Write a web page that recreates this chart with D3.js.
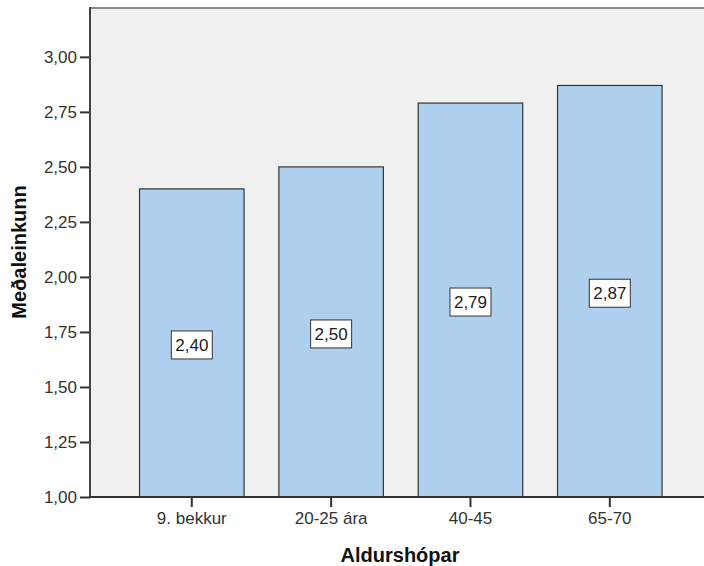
<!DOCTYPE html>
<html>
<head>
<meta charset="utf-8">
<script src="https://cdn.jsdelivr.net/npm/d3@7"></script>
<style>
  html, body { margin: 0; padding: 0; background: #fff; }
  svg { display: block; font-family: "Liberation Sans", Arial, sans-serif; }
</style>
</head>
<body>
<svg id="chart" width="704" height="566"></svg>
<script>
const categories = ["9. bekkur", "20-25 ára", "40-45", "65-70"];
const values = [2.40, 2.50, 2.79, 2.87];
const yTicks = [1.00, 1.25, 1.50, 1.75, 2.00, 2.25, 2.50, 2.75, 3.00];
const xTitle = "Aldurshópar";
const yTitle = "Meðaleinkunn";

(function () {
const fmt = v => d3.format(".2f")(v).replace(".", ",");

const svg = d3.select("#chart");
const pLeft = 90, pTop = 8, pBottom = 497, pRight = 710.6;

const x = d3.scaleBand().domain(categories).range([pLeft, pRight])
  .paddingInner(0.25).paddingOuter(0.352);
const y = d3.scaleLinear().domain([1, 3.222]).range([pBottom, pTop]);

// plot background
svg.append("rect").attr("x", pLeft).attr("y", pTop)
  .attr("width", 704 - pLeft + 5).attr("height", pBottom - pTop)
  .attr("fill", "#f0f0f0").attr("stroke", "#8a8a8a").attr("stroke-width", 2);

// bars
svg.append("g").selectAll("rect").data(values).join("rect")
  .attr("x", (d, i) => x(categories[i]) + 0.5)
  .attr("y", d => y(d))
  .attr("width", x.bandwidth())
  .attr("height", d => y(1) - y(d))
  .attr("fill", "#aed0ee")
  .attr("stroke", "#333")
  .attr("stroke-width", 1.2);

// value labels
const lab = svg.append("g").selectAll("g").data(values).join("g")
  .attr("transform", (d, i) => `translate(${x(categories[i]) + x.bandwidth() / 2 + 0.5},${(y(d) + y(1)) / 2 + 2})`);
lab.append("rect").attr("x", -20.5).attr("y", -14).attr("width", 41).attr("height", 28)
  .attr("fill", "#fff").attr("stroke", "#333").attr("stroke-width", 1);
lab.append("text").attr("text-anchor", "middle").attr("dy", "0.36em")
  .attr("font-size", 17).attr("fill", "#222").text(d => fmt(d));

// y axis
const yAxis = svg.append("g").attr("transform", `translate(${pLeft},0)`)
  .call(d3.axisLeft(y).tickValues(yTicks).tickFormat(fmt).tickSize(10).tickPadding(3));
yAxis.select(".domain").remove();
yAxis.selectAll("line").attr("stroke", "#333").attr("stroke-width", 2);
yAxis.selectAll("text").attr("font-size", 17).attr("fill", "#333").attr("font-family", "Liberation Sans, Arial, sans-serif");
svg.append("line").attr("x1", pLeft).attr("x2", pLeft).attr("y1", pTop - 1).attr("y2", pBottom + 1)
  .attr("stroke", "#444").attr("stroke-width", 2);

// x axis
const xAxis = svg.append("g").attr("transform", `translate(0.5,${pBottom})`)
  .call(d3.axisBottom(x).tickSize(10).tickPadding(5));
xAxis.select(".domain").remove();
xAxis.selectAll("line").attr("stroke", "#333").attr("stroke-width", 2);
xAxis.selectAll("text").attr("font-size", 17).attr("fill", "#333").attr("font-family", "Liberation Sans, Arial, sans-serif");
svg.append("line").attr("x1", pLeft - 1).attr("x2", 704).attr("y1", pBottom).attr("y2", pBottom)
  .attr("stroke", "#333").attr("stroke-width", 2);

// titles
svg.append("text").attr("x", 400).attr("y", 562).attr("text-anchor", "middle")
  .attr("font-size", 20).attr("font-weight", "bold").attr("fill", "#111").text(xTitle);
svg.append("text").attr("transform", "translate(26,252) rotate(-90)").attr("text-anchor", "middle")
  .attr("font-size", 20).attr("font-weight", "bold").attr("fill", "#111").text(yTitle);
})();
</script>
</body>
</html>
